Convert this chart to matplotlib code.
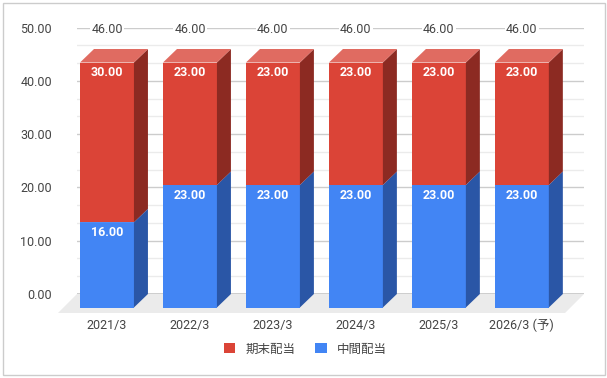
import numpy as np
import matplotlib.pyplot as plt
from matplotlib.patches import Polygon, Rectangle

plt.rcParams['font.family'] = ['Roboto', 'Noto Sans CJK JP', 'DejaVu Sans']

years = ["2021/3", "2022/3", "2023/3", "2024/3", "2025/3", "2026/3 (予)"]
chukan = [16, 23, 23, 23, 23, 23]    # 中間配当
kimatsu = [30, 23, 23, 23, 23, 23]   # 期末配当
totals = [46, 46, 46, 46, 46, 46]

c_red, c_red_side, c_red_top = "#DB4437", "#8C2A22", "#E06B61"
c_blue, c_blue_side, c_blue_top = "#4285F4", "#2A56A6", "#6FA3F7"

W, H = 607, 378
fig = plt.figure(figsize=(W / 100, H / 100), dpi=100)
# axes = back plane of the 3d box
x0, x1, y0, y1 = 77, 584, 294, 27.7   # pixel box
ax = fig.add_axes([x0 / W, 1 - y0 / H, (x1 - x0) / W, (y0 - y1) / H])
ax.set_xlim(-0.53, 5.58)
ax.set_ylim(0, 50)
for s in ax.spines.values():
    s.set_visible(False)

px_x = (x1 - x0) / (5.58 + 0.53)
px_y = (y0 - y1) / 50
dx, dy = 14 / px_x, 13.5 / px_y        # bar depth in data units
fx, fy = 19 / px_x, 19 / px_y          # floor depth

# grid
for v in np.arange(0, 50.01, 10 / 3):
    major = abs(v - round(v / 10) * 10) < 1e-6
    ax.axhline(v, color="#cccccc" if major else "#ebebeb", lw=1, zorder=0)

# floor
floor = Polygon([(-0.53, 0), (5.58, 0), (5.58 - fx, -fy), (-0.53 - fx, -fy)],
                closed=True, fc="#ebebeb", ec="none", clip_on=False, zorder=1)
ax.add_patch(floor)
ax.plot([-0.53, 5.58], [0, 0], color="#333333", lw=1, zorder=1.5)

x = np.arange(len(years))
w = 0.65
xf = x - dx  # front face centers
fs = 9


def box(xc, bottom, h, front, side, top, z):
    ax.bar(xc - dx, h, w, bottom=bottom - dy, color=front, clip_on=False, zorder=z)
    r = xc - dx + w / 2
    ax.add_patch(Polygon([(r, bottom - dy), (r + dx, bottom), (r + dx, bottom + h),
                          (r, bottom + h - dy)], closed=True, fc=side, ec="none",
                         clip_on=False, zorder=z))
    l = xc - dx - w / 2
    t = bottom + h
    ax.add_patch(Polygon([(l, t - dy), (l + dx, t), (r + dx, t), (r, t - dy)],
                         closed=True, fc=top, ec="none", clip_on=False, zorder=z))


for i in range(len(years)):
    box(x[i], 0, chukan[i], c_blue, c_blue_side, c_blue_top, 2 + i * 0.1)
    box(x[i], chukan[i], kimatsu[i], c_red, c_red_side, c_red_top, 2.05 + i * 0.1)

    ax.annotate(f"{chukan[i]:.2f}", (xf[i], chukan[i] - dy), xytext=(0, -10),
                textcoords="offset pixels", ha="center", va="center",
                color="white", fontsize=fs, fontweight="bold", zorder=5,
                annotation_clip=False)
    ax.annotate(f"{kimatsu[i]:.2f}", (xf[i], totals[i] - dy), xytext=(0, -10),
                textcoords="offset pixels", ha="center", va="center",
                color="white", fontsize=fs, fontweight="bold", zorder=5,
                annotation_clip=False)
    ax.annotate(f"{totals[i]:.2f}", (xf[i], totals[i]), xytext=(0, 20),
                textcoords="offset pixels", ha="center", va="center",
                color="#444444", fontsize=fs, zorder=5, annotation_clip=False,
                bbox=dict(fc="white", ec="none", pad=1))

ax.set_yticks(np.arange(0, 51, 10))
ax.set_yticklabels([f"{v:.2f}" for v in range(0, 51, 10)])
ax.tick_params(axis="y", length=0, pad=18, labelsize=fs, labelcolor="#444444")
ax.set_xticks(xf)
ax.set_xticklabels(years)
ax.tick_params(axis="x", length=0, pad=18, labelsize=fs, labelcolor="#444444")

# legend
handles = [Rectangle((0, 0), 1, 1, fc=c_red), Rectangle((0, 0), 1, 1, fc=c_blue)]
fig.legend(handles, ["期末配当", "中間配当"], loc="center", bbox_to_anchor=(0.503, 1 - 349 / H),
           ncol=2, frameon=False, fontsize=fs, handlelength=0.9, handleheight=0.9,
           columnspacing=1.6, handletextpad=0.8, labelcolor="#444444")

# outer frame
fig.add_artist(Rectangle((2.5 / W, 3.5 / H), (W - 5) / W, (H - 6) / H,
                         transform=fig.transFigure, fill=False, ec="#cccccc", lw=1))

fig.savefig("out.png", dpi=100)
